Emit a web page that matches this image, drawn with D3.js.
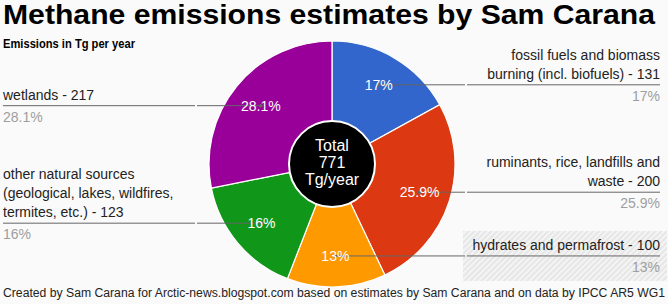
<!DOCTYPE html>
<html lang="en">
  <head>
    <meta charset="UTF-8" />
    <title>Methane emissions estimates</title>
    <script src="https://d3js.org/d3.v7.min.js"></script>
    <style>
      body {
        margin: 0;
        background: #fafafa;
      }
      svg text {
        font-family: "Liberation Sans", Arial, sans-serif;
      }
    </style>
  </head>
  <body>
    <div class="chart"></div>
  </body>

  <script>
    // data
    var labels = [
      ["fossil fuels and biomass", "burning (incl. biofuels) - 131"],
      ["ruminants, rice, landfills and", "waste - 200"],
      ["hydrates and permafrost - 100"],
      ["other natural sources", "(geological, lakes, wildfires,", "termites, etc.) - 123"],
      ["wetlands - 217"]
    ];
    var values = [131, 200, 100, 123, 217];
    var colors = ["#3366cc", "#dc3912", "#ff9900", "#109618", "#990099"];
    var highlighted = 2; // hydrates row has the hatched box
    var totalLines = ["Total", "771", "Tg/year"];

    var width = 668;
    var height = 304;
    var cx = 332, cy = 164, radius = 123;

    var svg = d3
      .select(".chart")
      .append("svg")
      .attr("width", width)
      .attr("height", height);

    svg.append("rect").attr("width", width).attr("height", height).attr("fill", "#fafafa");

    // hatch pattern for the highlighted legend entry
    var pat = svg
      .append("defs")
      .append("pattern")
      .attr("id", "hatch")
      .attr("patternUnits", "userSpaceOnUse")
      .attr("width", 4)
      .attr("height", 4)
      .attr("patternTransform", "rotate(45)");
    pat.append("rect").attr("width", 4).attr("height", 4).attr("fill", "#e6e6e6");
    pat.append("rect").attr("width", 2).attr("height", 4).attr("fill", "#f4f4f4");

    svg
      .append("text")
      .attr("x", 3)
      .attr("y", 24)
      .attr("font-size", 27)
      .attr("font-weight", "bold")
      .attr("textLength", 652)
      .attr("lengthAdjust", "spacingAndGlyphs")
      .text("Methane emissions estimates by Sam Carana");

    svg
      .append("text")
      .attr("x", 3)
      .attr("y", 48)
      .attr("font-size", 13)
      .attr("font-weight", "bold")
      .attr("textLength", 132)
      .attr("lengthAdjust", "spacingAndGlyphs")
      .text("Emissions in Tg per year");

    svg
      .append("text")
      .attr("x", 3)
      .attr("y", 297)
      .attr("font-size", 12)
      .attr("fill", "#222")
      .attr("textLength", 662)
      .attr("lengthAdjust", "spacingAndGlyphs")
      .text("Created by Sam Carana for Arctic-news.blogspot.com based on estimates by Sam Carana and on data by IPCC AR5 WG1");

    var total = d3.sum(values);
    var pctFmt = function (v) {
      return d3.format(".1f")((v / total) * 100).replace(/\.0$/, "") + "%";
    };

    var pie = d3.pie().sort(null).value((d) => d);
    var arcs = pie(values);
    var arc = d3.arc().innerRadius(0).outerRadius(radius);
    var labelArc = d3.arc().innerRadius(92).outerRadius(92);

    var g = svg.append("g").attr("transform", `translate(${cx}, ${cy})`);

    g.selectAll("path.slice")
      .data(arcs)
      .enter()
      .append("path")
      .attr("class", "slice")
      .attr("d", arc)
      .attr("fill", (d, i) => colors[i])
      .attr("stroke", "#fff")
      .attr("stroke-width", 1.2);

    // legend entries with leader lines
    arcs.forEach(function (a, i) {
      var c = labelArc.centroid(a);
      var ax = cx + c[0], ay = cy + c[1];
      var right = ax > cx;
      var tx = right ? 660 : 3;
      var anchor = right ? "end" : "start";
      var colStart = right ? 467 : 3;
      var colEnd = right ? 660 : 195;

      if (i === highlighted) {
        svg
          .append("rect")
          .attr("x", 463)
          .attr("y", ay - 25)
          .attr("width", 204)
          .attr("height", 50)
          .attr("fill", "url(#hatch)");
      }

      // underline under the label column
      svg
        .append("line")
        .attr("x1", colStart)
        .attr("x2", colEnd)
        .attr("y1", ay)
        .attr("y2", ay)
        .attr("stroke", "#666")
        .attr("stroke-width", 1);

      // leader from slice to the column
      svg
        .append("line")
        .attr("x1", ax)
        .attr("x2", right ? colStart - 2 : colEnd + 2)
        .attr("y1", ay)
        .attr("y2", ay)
        .attr("stroke", "#666")
        .attr("stroke-width", 1);

      svg
        .append("circle")
        .attr("cx", ax)
        .attr("cy", ay)
        .attr("r", 1.8)
        .attr("fill", "#666");

      var lines = labels[i];
      lines.forEach(function (t, j) {
        svg
          .append("text")
          .attr("x", tx)
          .attr("y", ay - 6 - (lines.length - 1 - j) * 19)
          .attr("font-size", 14)
          .attr("fill", "#222")
          .attr("text-anchor", anchor)
          .text(t);
      });

      svg
        .append("text")
        .attr("x", tx)
        .attr("y", ay + 16)
        .attr("font-size", 14)
        .attr("fill", "#9e9e9e")
        .attr("text-anchor", anchor)
        .text(pctFmt(values[i]));

      // percentage inside the slice
      svg
        .append("text")
        .attr("x", ax)
        .attr("y", ay + 5)
        .attr("font-size", 14)
        .attr("fill", "#fff")
        .attr("text-anchor", "middle")
        .text(pctFmt(values[i]));
    });

    // centre disc
    g.append("circle")
      .attr("r", 43)
      .attr("fill", "#000")
      .attr("stroke", "#fff")
      .attr("stroke-width", 2);

    g.selectAll("text.total")
      .data(totalLines)
      .enter()
      .append("text")
      .attr("class", "total")
      .attr("y", (d, i) => -13 + i * 17)
      .attr("font-size", 16)
      .attr("fill", "#fff")
      .attr("text-anchor", "middle")
      .text((d) => d);
  </script>
</html>
